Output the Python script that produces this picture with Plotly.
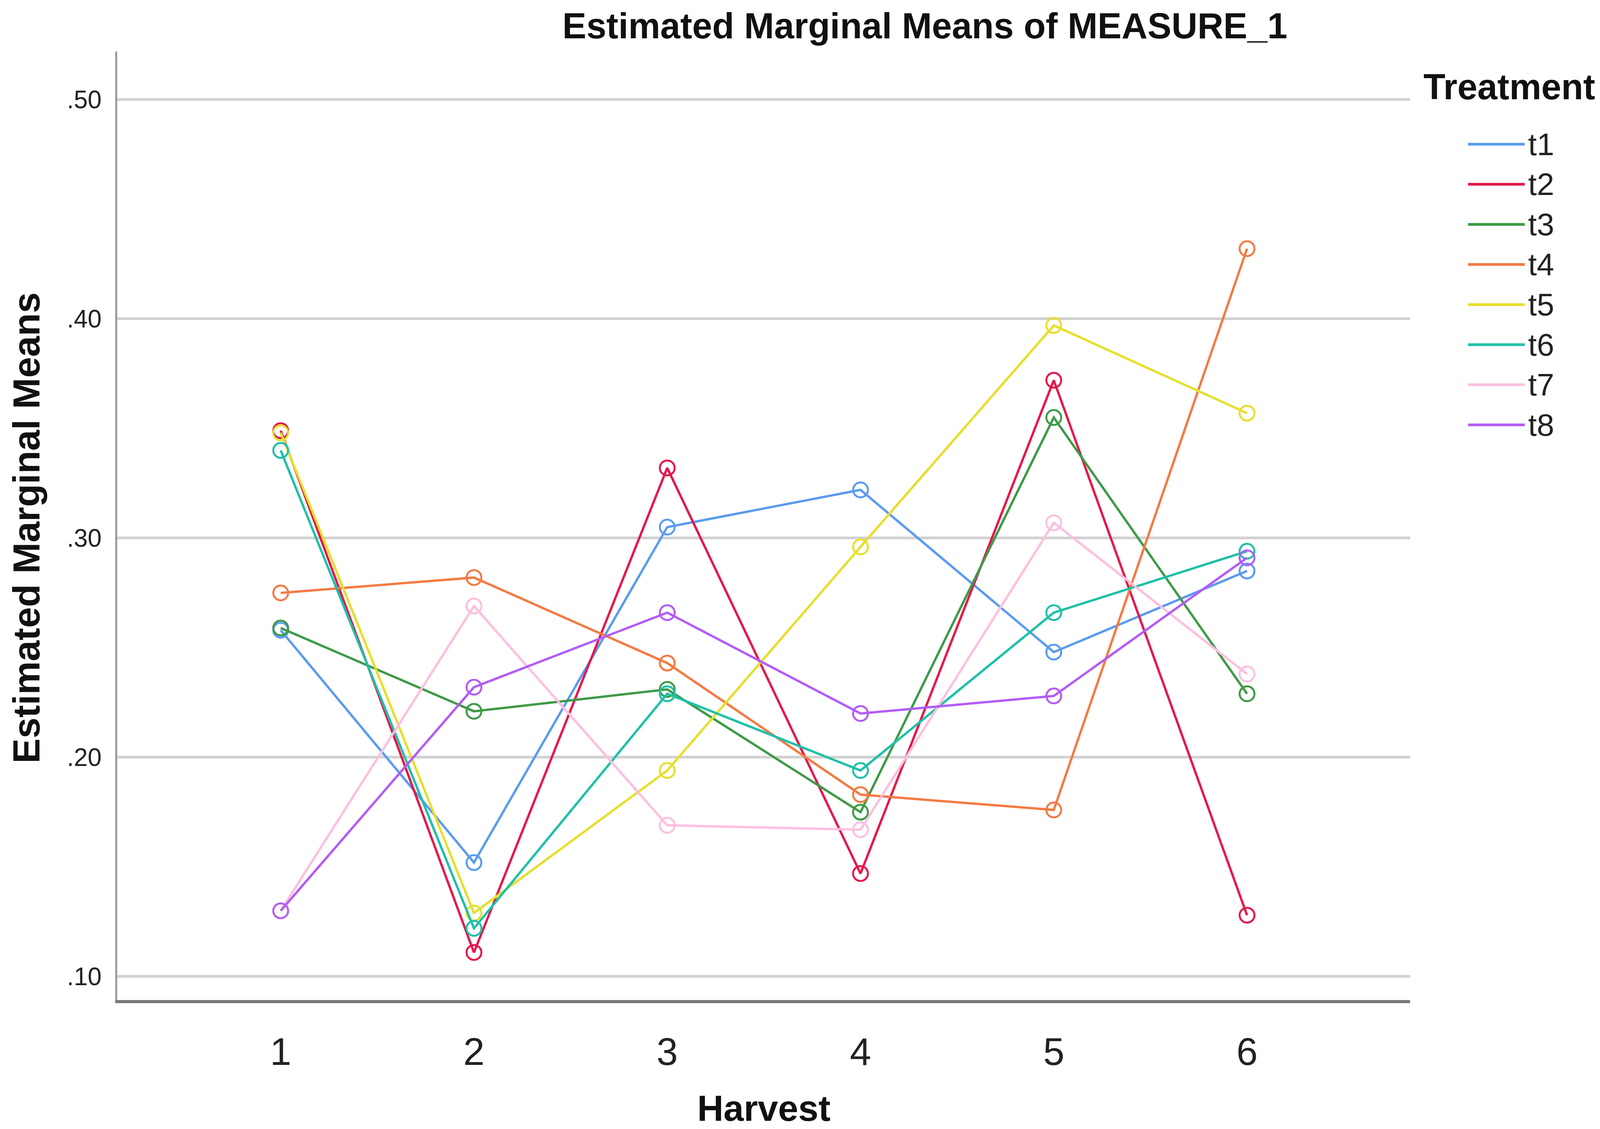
import plotly.graph_objects as go

# Estimated marginal means
harvest = [1, 2, 3, 4, 5, 6]
harvest_labels = ["1", "2", "3", "4", "5", "6"]
treatments = ["t1", "t2", "t3", "t4", "t5", "t6", "t7", "t8"]

t1 = [0.258, 0.152, 0.305, 0.322, 0.248, 0.285]
t2 = [0.349, 0.111, 0.332, 0.147, 0.372, 0.128]
t3 = [0.259, 0.221, 0.231, 0.175, 0.355, 0.229]
t4 = [0.275, 0.282, 0.243, 0.183, 0.176, 0.432]
t5 = [0.348, 0.129, 0.194, 0.296, 0.397, 0.357]
t6 = [0.340, 0.122, 0.229, 0.194, 0.266, 0.294]
t7 = [0.130, 0.269, 0.169, 0.167, 0.307, 0.238]
t8 = [0.130, 0.232, 0.266, 0.220, 0.228, 0.291]

y_ticks = [0.10, 0.20, 0.30, 0.40, 0.50]
y_tick_labels = [".10", ".20", ".30", ".40", ".50"]

colors = ["#5A9BF0", "#E3194B", "#3E9A47", "#F47A43",
          "#E6DF2B", "#1FC0A8", "#FDBFE0", "#B45CF5"]

# layout measured on the 4317 px wide reference, squeezed to the 4096 px
# the browser really photographs
REF_W, H = 4317, 2889
REF_L, REF_R, T, B = 308, 521, 124, 338
W = 4096
K = W / REF_W
L, R = round(REF_L * K), round(REF_R * K)
FONT = "Arial, Liberation Sans, sans-serif"


def px_x(px):
    return (px - REF_L) / (REF_W - REF_L - REF_R)


def px_y(py):
    return (H - B - py) / (H - T - B)


fig = go.Figure()
series = [t1, t2, t3, t4, t5, t6, t7, t8]
for name, vals, col in zip(treatments, series, colors):
    fig.add_trace(go.Scatter(
        x=harvest, y=vals, name=name, mode="lines+markers",
        line=dict(color=col, width=6),
        marker=dict(symbol="circle-open", size=38, color=col, line=dict(width=5, color=col)),
        showlegend=False,
    ))

# hand-made legend so the line samples are as long as SPSS draws them
shapes = []
annotations = []
annotations.append(dict(
    text="<b>Treatment</b>", xref="paper", yref="paper",
    x=px_x(3830), y=px_y(214), xanchor="left", yanchor="middle",
    showarrow=False, font=dict(family=FONT, size=92, color="#111"),
))
for i, (name, col) in enumerate(zip(treatments, colors)):
    yy = px_y(361 + i * 102.6)
    shapes.append(dict(type="line", xref="paper", yref="paper",
                       x0=px_x(3952), x1=px_x(4105), y0=yy, y1=yy,
                       line=dict(color=col, width=7)))
    annotations.append(dict(
        text=name, xref="paper", yref="paper", x=px_x(4112), y=yy,
        xanchor="left", yanchor="middle", showarrow=False,
        font=dict(family=FONT, size=80, color="#222"),
    ))

# axis titles, kept a hair inside the page edges
annotations.append(dict(
    text="<b>Harvest</b>", xref="paper", yref="paper", x=0.5, y=px_y(2828),
    xanchor="center", yanchor="middle", showarrow=False,
    font=dict(family=FONT, size=93, color="#111"),
))
annotations.append(dict(
    text="<b>Estimated Marginal Means</b>", xref="paper", yref="paper",
    x=px_x(62), y=px_y(1343), xanchor="center", yanchor="middle",
    textangle=-90, showarrow=False,
    font=dict(family=FONT, size=96, color="#111"),
))

fig.update_layout(
    width=W, height=H,
    margin=dict(l=L, r=R, t=T, b=B),
    paper_bgcolor="white", plot_bgcolor="white",
    font=dict(family=FONT, color="#222"),
    title=dict(text="<b>Estimated Marginal Means of MEASURE_1</b>",
               xref="container", yref="container",
               x=2487 / REF_W, y=1 - 58 / H, xanchor="center", yanchor="middle",
               font=dict(family=FONT, size=92, color="#111")),
    shapes=shapes,
    annotations=annotations,
)
fig.update_xaxes(
    range=[0.154, 6.844], tickvals=harvest, ticktext=harvest_labels,
    showgrid=False, zeroline=False, showline=True, linecolor="#7a7a7a", linewidth=8,
    ticks="", tickfont=dict(family=FONT, size=98, color="#222"), ticklabelstandoff=40,
)
fig.update_yaxes(
    range=[0.0893, 0.5219], tickvals=y_ticks, ticktext=y_tick_labels,
    showgrid=True, gridcolor="#d2d2d2", gridwidth=7,
    zeroline=False, showline=True, linecolor="#9a9a9a", linewidth=5,
    ticks="", tickfont=dict(family=FONT, size=64, color="#222"), ticklabelstandoff=22,
)

fig.write_html("out.html")
